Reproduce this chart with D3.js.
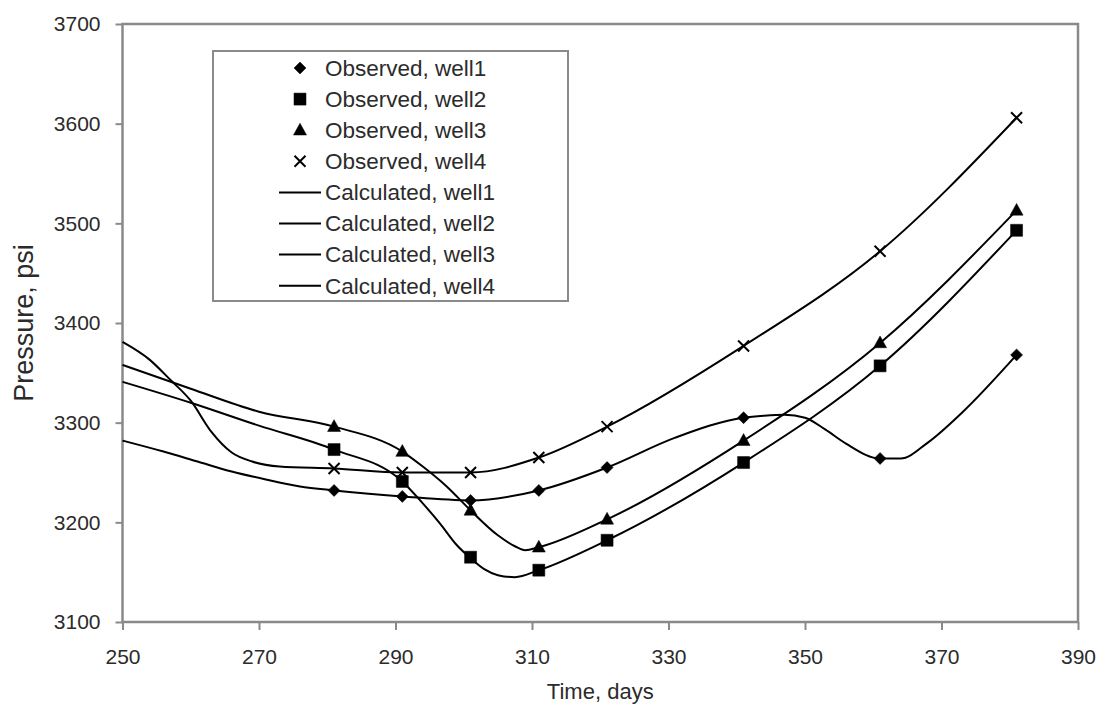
<!DOCTYPE html>
<html>
<head>
<meta charset="utf-8">
<script src="https://cdn.jsdelivr.net/npm/d3@7"></script>
<style>
  html, body { margin: 0; padding: 0; background: #fff; }
  svg { display: block; font-family: "Liberation Sans", Arial, Helvetica, sans-serif; }
</style>
</head>
<body>
<svg id="chart" width="1100" height="708"></svg>
<script>
// ---- axis ticks ----
const xTicks = [250, 270, 290, 310, 330, 350, 370, 390];
const yTicks = [3100, 3200, 3300, 3400, 3500, 3600, 3700];

// ---- observed pressures (psi) ----
const obsDays  = [281, 291, 301, 311, 321, 341, 361, 381];
const obsWell1 = [3232, 3226, 3222, 3232, 3255, 3305, 3264, 3368];
const obsWell2 = [3273, 3241, 3165, 3152, 3182, 3260, 3357, 3493];
const obsWell3 = [3296, 3271, 3212, 3175, 3203, 3282, 3380, 3513];
const obsWell4 = [3254, 3250, 3250, 3265, 3296, 3377, 3472, 3606];

// ---- calculated pressures (psi) ----
const calcDays1  = [250, 256, 261, 266, 271, 276, 281, 291, 301, 311, 321, 331, 341, 344, 347, 350, 353, 356, 361, 364, 368, 373, 381];
const calcWell1  = [3282, 3271, 3261, 3251, 3243, 3236, 3232, 3226, 3222, 3232, 3255, 3285, 3305, 3307, 3308, 3305, 3293, 3279, 3264, 3264, 3280, 3310, 3368];
const calcDays2  = [250, 260, 270, 281, 291, 294, 296.5, 299, 301, 303, 305, 307.5, 311, 321, 341, 361, 381];
const calcWell2  = [3341, 3320, 3297, 3273, 3241, 3219, 3199, 3177, 3164, 3153, 3147, 3145, 3152, 3182, 3260, 3357, 3493];
const calcDays3  = [250, 260, 270, 281, 291, 294, 297.5, 301, 305, 307.5, 309, 311, 321, 341, 361, 381];
const calcWell3  = [3358, 3334, 3311, 3296, 3271, 3256, 3236, 3212, 3187, 3176, 3172, 3175, 3203, 3282, 3380, 3513];
const calcDays4  = [250, 254, 257, 260, 263, 266, 269, 273, 281, 291, 301, 311, 321, 341, 361, 381];
const calcWell4  = [3381, 3363, 3343, 3322, 3291, 3270, 3261, 3256, 3254, 3250, 3250, 3265, 3296, 3377, 3472, 3606];

// ---- legend labels ----
const legendLabels = [
  "Observed, well1", "Observed, well2", "Observed, well3", "Observed, well4",
  "Calculated, well1", "Calculated, well2", "Calculated, well3", "Calculated, well4"
];
const markerTypes = ["diamond", "square", "triangle", "cross"];

const svg = d3.select("#chart");
const frameColor = "#8a8a8a";
const textColor = "#2b2b2b";

const x = d3.scaleLinear().domain([250, 390]).range([122.5, 1078]);
const y = d3.scaleLinear().domain([3100, 3700]).range([622, 24]);

svg.append("rect").attr("width", 1100).attr("height", 708).attr("fill", "#fff");

// plot frame
svg.append("rect")
  .attr("x", x(250)).attr("y", y(3700))
  .attr("width", x(390) - x(250)).attr("height", y(3100) - y(3700))
  .attr("fill", "none").attr("stroke", frameColor).attr("stroke-width", 2.5);

// x axis
const gx = svg.append("g")
  .attr("transform", `translate(0,${y(3100)})`)
  .call(d3.axisBottom(x).tickValues(xTicks).tickSize(8).tickPadding(19).tickFormat(d3.format("d")));
gx.select(".domain").remove();
gx.selectAll(".tick line").attr("stroke", frameColor).attr("stroke-width", 2);
gx.selectAll(".tick text").attr("fill", textColor).attr("font-size", 21)
  .attr("font-family", "Liberation Sans, Arial, sans-serif");

// y axis
const gy = svg.append("g")
  .attr("transform", `translate(${x(250)},0)`)
  .call(d3.axisLeft(y).tickValues(yTicks).tickSize(7).tickPadding(15).tickFormat(d3.format("d")));
gy.select(".domain").remove();
gy.selectAll(".tick line").attr("stroke", frameColor).attr("stroke-width", 2);
gy.selectAll(".tick text").attr("fill", textColor).attr("font-size", 21)
  .attr("font-family", "Liberation Sans, Arial, sans-serif");

// axis titles
svg.append("text")
  .attr("x", (x(250) + x(390)) / 2).attr("y", 699)
  .attr("text-anchor", "middle").attr("font-size", 22).attr("fill", textColor)
  .text("Time, days");
svg.append("text")
  .attr("transform", `translate(33,${(y(3100) + y(3700)) / 2}) rotate(-90)`)
  .attr("text-anchor", "middle").attr("font-size", 27).attr("fill", textColor)
  .text("Pressure, psi");

// calculated curves
const line = d3.line().x(d => x(d[0])).y(d => y(d[1])).curve(d3.curveMonotoneX);
const calcSeries = [
  d3.zip(calcDays1, calcWell1),
  d3.zip(calcDays2, calcWell2),
  d3.zip(calcDays3, calcWell3),
  d3.zip(calcDays4, calcWell4)
];
svg.append("g").selectAll("path").data(calcSeries).join("path")
  .attr("d", line).attr("fill", "none").attr("stroke", "#000").attr("stroke-width", 2);

// marker shapes
function markerPath(type) {
  const p = d3.path();
  if (type === "diamond") {
    const h = 6;
    p.moveTo(0, -h); p.lineTo(h, 0); p.lineTo(0, h); p.lineTo(-h, 0); p.closePath();
  } else if (type === "square") {
    const h = 6;
    p.rect(-h, -h, 2 * h, 2 * h);
  } else if (type === "triangle") {
    p.moveTo(0, -7); p.lineTo(6.5, 4.8); p.lineTo(-6.5, 4.8); p.closePath();
  } else {
    const h = 5.5;
    p.moveTo(-h, -h); p.lineTo(h, h); p.moveTo(-h, h); p.lineTo(h, -h);
  }
  return p.toString();
}
function drawMarker(sel, type) {
  sel.attr("d", markerPath(type))
    .attr("fill", type === "cross" ? "none" : "#000")
    .attr("stroke", "#000")
    .attr("stroke-width", type === "cross" ? 2 : 0.5);
}

// observed points
const obsSeries = [obsWell1, obsWell2, obsWell3, obsWell4];
obsSeries.forEach((vals, i) => {
  svg.append("g").selectAll("path").data(d3.zip(obsDays, vals)).join("path")
    .attr("transform", d => `translate(${x(d[0])},${y(d[1])})`)
    .call(drawMarker, markerTypes[i]);
});

// legend
const lg = svg.append("g");
lg.append("rect")
  .attr("x", 213).attr("y", 51).attr("width", 355).attr("height", 250)
  .attr("fill", "#fff").attr("stroke", frameColor).attr("stroke-width", 2);
legendLabels.forEach((label, i) => {
  const cy = 68 + i * 31.1;
  if (i < 4) {
    lg.append("path").attr("transform", `translate(300,${cy})`).call(drawMarker, markerTypes[i]);
  } else {
    lg.append("line").attr("x1", 279).attr("x2", 321).attr("y1", cy).attr("y2", cy)
      .attr("stroke", "#000").attr("stroke-width", 2);
  }
  lg.append("text").attr("x", 325).attr("y", cy).attr("dy", "0.35em")
    .attr("font-size", 22.5).attr("fill", textColor).text(label);
});
</script>
</body>
</html>
